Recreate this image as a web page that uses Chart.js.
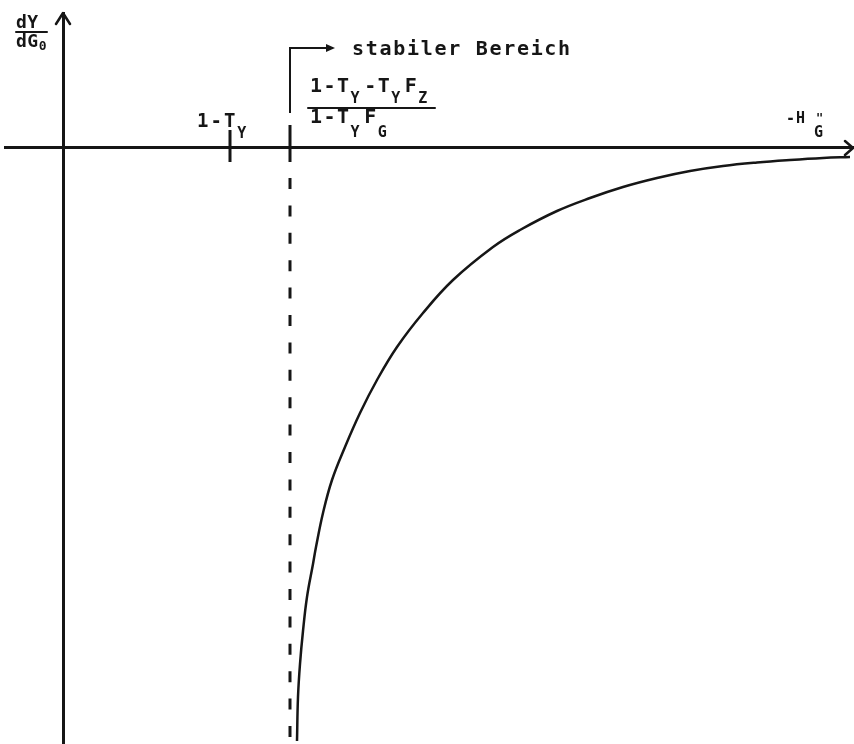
<!DOCTYPE html>
<html lang="de">
<head>
<meta charset="UTF-8">
<title>dY/dG0 in Abhängigkeit von -H''G</title>
<style>
  body { margin: 0; background: #fff; }
  #chart { display: block; }
</style>
</head>
<body>
<canvas id="chart" width="854" height="744"></canvas>
<script src="https://cdn.jsdelivr.net/npm/chart.js@4"></script>
<script>
// Achsenbereich (Ursprung = Achsenkreuz, Einheiten beliebig)
const xRange = [-5.8, 79.0];
const yRange = [-59.6, 13.5];

// Kurve dY/dG0 ueber -H''G
const curveX = [23.4, 23.5, 23.7, 24.0, 24.4, 25.0, 25.3, 26.0, 26.9, 28.2, 29.7, 31.4, 33.4, 36.0, 39.0, 43.0, 45.7, 49.4, 52.7, 56.0, 59.4, 62.7, 66.0, 69.4, 72.7, 76.0, 78.7];
const curveY = [-59.3, -54.9, -51.6, -48.3, -44.9, -41.6, -39.9, -36.5, -33.2, -29.9, -26.5, -23.2, -19.9, -16.5, -13.2, -9.9, -8.2, -6.3, -5.0, -3.9, -3.0, -2.3, -1.8, -1.45, -1.2, -1.0, -0.9];

// Markierungen auf der Abszisse: 1-T_Y und Grenze des stabilen Bereichs
const markX = [16.7, 22.7];
const markTop = [1.8, 2.3];
const markBottom = [-1.4, -1.4];

// gestrichelte Senkrechte unter der Grenze
const asymptoteY = [-3.0, -59.6];

// Pfeil "stabiler Bereich"
const bracketX = [22.7, 22.7, 27.0];
const bracketY = [3.5, 10.0, 10.0];

// Beschriftungen
const labelYTop = 'dY';
const labelYBottom = [['dG', 'n'], ['0', 'sub']];
const labelMark = [['1-T', 'n'], ['Y', 'sub']];
const labelNum = [['1-T', 'n'], ['Y', 'sub'], ['-T', 'n'], ['Y', 'sub'], ['F', 'n'], ['Z', 'sub']];
const labelDen = [['1-T', 'n'], ['Y', 'sub'], ['F', 'n'], ['G', 'sub']];
const labelStable = 'stabiler Bereich';
const labelX = '-H';

const ink = '#161616';
const mono = '"DejaVu Sans Mono", "Liberation Mono", monospace';

function pts(xs, ys) {
    return xs.map((x, i) => ({ x: x, y: ys[i] }));
}

// Text mit Indizes; gibt das rechte Ende zurueck
function drawRich(ctx, parts, x, y, o) {
    parts.forEach(([t, kind]) => {
        const sub = kind === 'sub';
        ctx.font = 'bold ' + (sub ? o.subSize : o.size) + 'px ' + mono;
        ctx.fillText(t, x, sub ? y + o.subDy : y);
        x += ctx.measureText(t).width + (sub ? o.subGap : 0);
    });
    return x;
}

const decorations = {
    id: 'decorations',
    afterDatasetsDraw(chart) {
        const ctx = chart.ctx;
        const sx = chart.scales.x, sy = chart.scales.y;
        const ox = sx.getPixelForValue(0), oy = sy.getPixelForValue(0);
        const top = chart.chartArea.top, right = chart.chartArea.right;

        ctx.save();
        ctx.strokeStyle = ink;
        ctx.fillStyle = ink;
        ctx.lineWidth = 2.5;
        ctx.lineCap = 'round';
        ctx.lineJoin = 'round';

        // Pfeilspitzen der Achsen
        ctx.beginPath();
        ctx.moveTo(ox - 7, top + 11);
        ctx.lineTo(ox, top);
        ctx.lineTo(ox + 7, top + 11);
        ctx.moveTo(right - 8, oy - 7);
        ctx.lineTo(right, oy);
        ctx.lineTo(right - 8, oy + 7);
        ctx.stroke();

        // Pfeilspitze "stabiler Bereich"
        const ax = sx.getPixelForValue(bracketX[2]);
        const ay = sy.getPixelForValue(bracketY[2]);
        ctx.beginPath();
        ctx.moveTo(ax + 2, ay);
        ctx.lineTo(ax - 7, ay - 4);
        ctx.lineTo(ax - 7, ay + 4);
        ctx.closePath();
        ctx.fill();

        ctx.textBaseline = 'alphabetic';
        ctx.textAlign = 'left';

        // Ordinatenbeschriftung dY / dG0
        ctx.letterSpacing = '0.5px';
        ctx.font = 'bold 18px ' + mono;
        ctx.fillText(labelYTop, ox - 47, top + 15);
        ctx.lineWidth = 2;
        ctx.beginPath();
        ctx.moveTo(ox - 47, top + 19);
        ctx.lineTo(ox - 16, top + 19);
        ctx.stroke();
        drawRich(ctx, labelYBottom, ox - 47, top + 34, { size: 18, subSize: 13, subDy: 3, subGap: 0 });

        // 1-T_Y
        ctx.letterSpacing = '2px';
        const m1 = sx.getPixelForValue(markX[0]);
        drawRich(ctx, labelMark, m1 - 33, oy - 21, { size: 19, subSize: 15, subDy: 11, subGap: 0 });

        // Bruch
        ctx.letterSpacing = '1.5px';
        const m2 = sx.getPixelForValue(markX[1]);
        const fx = m2 + 20;
        drawRich(ctx, labelNum, fx, oy - 56, { size: 20, subSize: 15, subDy: 11, subGap: 3 });
        ctx.beginPath();
        ctx.moveTo(fx - 2, oy - 40);
        ctx.lineTo(fx + 125, oy - 40);
        ctx.stroke();
        drawRich(ctx, labelDen, fx, oy - 25, { size: 20, subSize: 15, subDy: 14, subGap: 3 });

        // stabiler Bereich
        ctx.letterSpacing = '1.7px';
        ctx.font = 'bold 20px ' + mono;
        ctx.fillText(labelStable, ax + 19, ay + 7);

        // -H''G
        ctx.letterSpacing = '1px';
        ctx.font = 'bold 15px ' + mono;
        ctx.fillText(labelX, right - 67, oy - 25);
        ctx.fillText('G', right - 39, oy - 11);
        ctx.font = 'bold 12px ' + mono;
        ctx.fillText('"', right - 37, oy - 26);
        ctx.restore();
    }
};

new Chart(document.getElementById('chart'), {
    type: 'scatter',
    data: {
        datasets: [
            {
                data: pts(curveX, curveY),
                showLine: true,
                borderColor: ink,
                borderWidth: 2.5,
                pointRadius: 0,
                tension: 0.4
            },
            {
                data: pts([markX[0], markX[0]], [markTop[0], markBottom[0]]),
                showLine: true, borderColor: ink, borderWidth: 3, pointRadius: 0
            },
            {
                data: pts([markX[1], markX[1]], [markTop[1], markBottom[1]]),
                showLine: true, borderColor: ink, borderWidth: 3, pointRadius: 0
            },
            {
                data: pts([markX[1], markX[1]], asymptoteY),
                showLine: true, borderColor: ink, borderWidth: 3, pointRadius: 0,
                borderDash: [11, 16.4]
            },
            {
                data: pts(bracketX, bracketY),
                showLine: true, borderColor: ink, borderWidth: 2, pointRadius: 0
            }
        ]
    },
    options: {
        responsive: false,
        animation: false,
        layout: { padding: { left: 5, top: 13, right: 1, bottom: 0 } },
        plugins: {
            legend: { display: false },
            tooltip: { enabled: false }
        },
        scales: {
            x: {
                type: 'linear',
                min: xRange[0],
                max: xRange[1],
                position: { y: 0 },
                ticks: { display: false },
                grid: { display: false, drawTicks: false },
                border: { color: ink, width: 3 }
            },
            y: {
                type: 'linear',
                min: yRange[0],
                max: yRange[1],
                position: { x: 0 },
                ticks: { display: false },
                grid: { display: false, drawTicks: false },
                border: { color: ink, width: 3 }
            }
        }
    },
    plugins: [decorations]
});
</script>
</body>
</html>
